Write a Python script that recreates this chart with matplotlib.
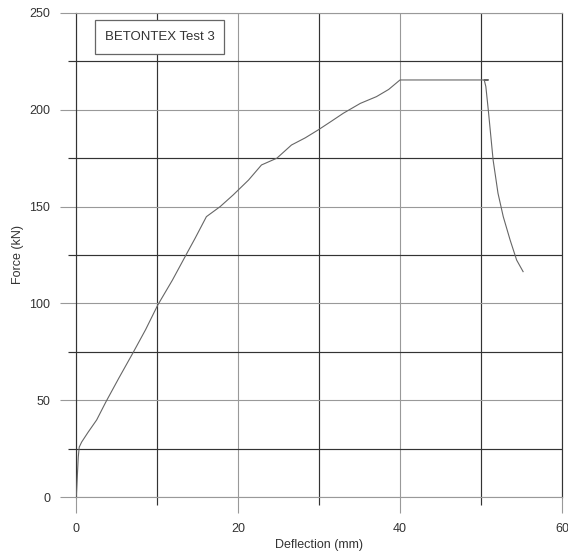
import matplotlib.pyplot as plt
from matplotlib.patches import Rectangle

# Load-deflection curve
deflection = [0.0, 0.05, 0.28, 0.4, 0.7, 1.5, 2.55, 3.7, 5.3, 7.0, 8.6, 10.1,
              11.9, 13.8, 14.7, 16.1, 17.8, 19.4, 21.3, 22.9, 24.8, 26.6,
              28.3, 29.9, 31.5, 33.0, 35.1, 37.1, 38.6, 40.0, 45.0, 50.9,
              50.4, 50.6, 50.9, 51.5, 52.1, 52.75, 53.6, 54.4, 55.2]
force = [0.0, 1.0, 20.7, 25.8, 28.4, 33.5, 39.8, 49.2, 61.5, 74.2, 86.5, 99.2,
         112.0, 126.7, 133.6, 144.8, 150.0, 156.0, 163.7, 171.5, 175.0, 181.8,
         185.5, 189.6, 194.0, 198.2, 203.3, 206.8, 210.5, 215.4, 215.4, 215.4,
         215.4, 212.0, 200.0, 174.0, 156.9, 144.8, 132.7, 122.4, 116.4]

x_major = [0, 20, 40, 60]
x_minor = [10, 30, 50]
y_major = [0, 50, 100, 150, 200, 250]
y_minor = [25, 75, 125, 175, 225]

plt.rcParams["font.family"] = ["Liberation Sans", "DejaVu Sans"]

fig = plt.figure(figsize=(5.68, 5.57), dpi=100)
ax = fig.add_axes([0.1338, 0.1077, 0.8556, 0.869])

ax.plot(deflection, force, color="#666666", lw=0.8, zorder=3)

ax.set_xlim(0, 60)
ax.set_ylim(0, 250)
ax.set_xticks(x_major)
ax.set_xticks(x_minor, minor=True)
ax.set_yticks(y_major)
ax.set_yticks(y_minor, minor=True)

ax.grid(which="major", color="#999999", lw=0.8)
ax.grid(which="minor", color="#333333", lw=0.85)
ax.set_axisbelow(True)

ax.tick_params(which="major", direction="out", length=11.5, width=0.8,
               color="#999999", labelsize=9, labelcolor="#333333", pad=7)
ax.tick_params(which="minor", direction="out", length=5.8, width=0.85,
               color="#333333")

for side in ["top", "bottom"]:
    ax.spines[side].set_color("#999999")
    ax.spines[side].set_linewidth(0.8)
for side in ["left", "right"]:
    ax.spines[side].set_color("#333333")
    ax.spines[side].set_linewidth(0.85)

ax.set_xlabel("Deflection (mm)", fontsize=9, color="#333333", labelpad=3)
ax.set_ylabel("Force (kN)", fontsize=9, color="#333333", labelpad=4)

# title box
ax.add_patch(Rectangle((0.039, 0.915), 0.2655, 0.0705, transform=ax.transAxes,
                       facecolor="white", edgecolor="#666666", lw=0.9, zorder=4))
ax.text(0.172, 0.950, "BETONTEX Test 3", transform=ax.transAxes,
        ha="center", va="center", fontsize=9.5, color="#333333", zorder=5)

fig.savefig("out.png", dpi=100)
